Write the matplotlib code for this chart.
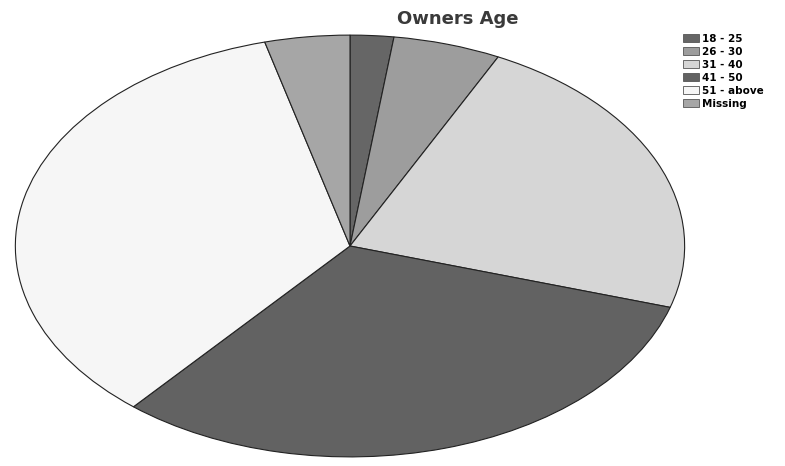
import matplotlib.pyplot as plt
from matplotlib.patches import Patch

plt.rcParams['font.family'] = ['DejaVu Sans']

labels = ['18 - 25', '26 - 30', '31 - 40', '41 - 50', '51 - above', 'Missing']
shares = [2.1, 5.2, 22.4, 31.5, 34.7, 4.1]
colors = ['#666666', '#9d9d9d', '#d6d6d6', '#626262', '#f6f6f6', '#a6a6a6']

fig = plt.figure(figsize=(7.85, 4.66), dpi=100)
# the pie is drawn squashed into an ellipse by stretching the axes
ax = fig.add_axes([12 / 785, 7 / 466, 676 / 785, 426 / 466])
ax.pie(shares, colors=colors, startangle=90, counterclock=False,
       wedgeprops=dict(edgecolor='#222222', linewidth=0.8))
ax.set_aspect('auto')
ax.set_xlim(-1.01, 1.01)
ax.set_ylim(-1.01, 1.01)
ax.axis('off')

fig.text(458 / 785, 1 - 19 / 466, 'Owners Age', ha='center', va='center',
         fontsize=13, fontweight='bold', color='#3a3a3a')

handles = [Patch(facecolor=c, edgecolor='#555555', linewidth=0.6) for c in colors]
fig.legend(handles, labels, loc='upper left', bbox_to_anchor=(683 / 785, 1 - 34 / 466),
           frameon=False, handlelength=1.5, handleheight=0.8,
           handletextpad=0.35, labelspacing=0.28, borderpad=0, borderaxespad=0,
           prop={'weight': 'bold', 'size': 7.5})

fig.savefig('out.png', dpi=100)
